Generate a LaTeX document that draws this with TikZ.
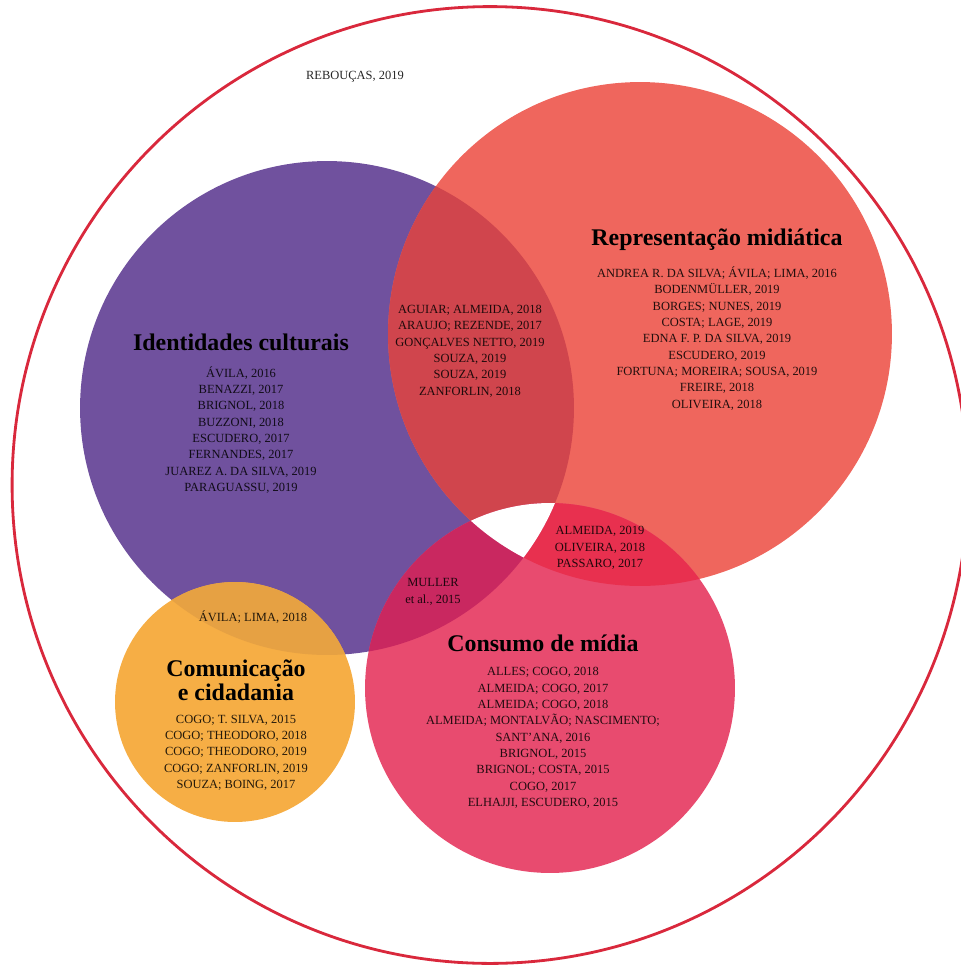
\documentclass[tikz,border=0pt]{standalone}
\usepackage{fontspec}
\setmainfont{Liberation Serif}
\usetikzlibrary{positioning}

\definecolor{identcol}{HTML}{70519E}
\definecolor{reprcol}{HTML}{EF665D}
\definecolor{consumocol}{HTML}{E84B6F}
\definecolor{comcol}{HTML}{F6AE45}
\definecolor{identrepr}{HTML}{D0454D}
\definecolor{reprconsumo}{HTML}{E8304F}
\definecolor{identconsumo}{HTML}{C92860}
\definecolor{identcom}{HTML}{E6A143}
\definecolor{outercol}{HTML}{D9283C}

\begin{document}
\begin{tikzpicture}[x=0.02cm, y=-0.02cm,
    refs/.style={align=center, text opacity=0.85, font=\fontsize{7.1}{9.3}\selectfont},
    titlebox/.style={align=center, font=\fontsize{13.6}{13.8}\selectfont\bfseries}]
    \useasboundingbox (0,0) rectangle (961,965);

    % Outer circle
    \draw[outercol, line width=1.6pt] (490,485) ellipse[x radius=9.56cm, y radius=9.57cm];

    % Circles of the four themes
    \fill[identcol] (327,408) circle[radius=4.94cm];
    \fill[reprcol] (640,334) circle[radius=5.04cm];
    \fill[consumocol] (550,688) circle[radius=3.7cm];
    \fill[comcol] (235,702) circle[radius=2.4cm];

    % Overlap of identidades and representacao
    \begin{scope}
        \clip (327,408) circle[radius=4.94cm];
        \fill[identrepr] (640,334) circle[radius=5.04cm];
    \end{scope}

    % Overlap of representacao and consumo
    \begin{scope}
        \clip (640,334) circle[radius=5.04cm];
        \fill[reprconsumo] (550,688) circle[radius=3.7cm];
    \end{scope}

    % Overlap of identidades and consumo
    \begin{scope}
        \clip (327,408) circle[radius=4.94cm];
        \fill[identconsumo] (550,688) circle[radius=3.7cm];
    \end{scope}

    % Overlap of identidades and comunicacao
    \begin{scope}
        \clip (327,408) circle[radius=4.94cm];
        \fill[identcom] (235,702) circle[radius=2.4cm];
    \end{scope}

    % Empty centre of the three circles
    \begin{scope}
        \clip (327,408) circle[radius=4.94cm];
        \clip (640,334) circle[radius=5.04cm];
        \fill[white] (550,688) circle[radius=3.7cm];
    \end{scope}

    % Labels
    \node[refs] (reboucas) at (355,77) {REBOUÇAS, 2019};

    \node[titlebox] (identTitle) at (241,342) {Identidades culturais};
    \node[refs, below=2pt of identTitle] (identRefs) {ÁVILA, 2016\\ BENAZZI, 2017\\ BRIGNOL, 2018\\ BUZZONI, 2018\\ ESCUDERO, 2017\\ FERNANDES, 2017\\ JUAREZ A. DA SILVA, 2019\\ PARAGUASSU, 2019};

    \node[refs] (identReprRefs) at (470,351) {AGUIAR; ALMEIDA, 2018\\ ARAUJO; REZENDE, 2017\\ GONÇALVES NETTO, 2019\\ SOUZA, 2019\\ SOUZA, 2019\\ ZANFORLIN, 2018};

    \node[titlebox] (reprTitle) at (717,240) {Representação midiática};
    \node[refs, below=2pt of reprTitle] (reprRefs) {ANDREA R. DA SILVA; ÁVILA; LIMA, 2016\\ BODENMÜLLER, 2019\\ BORGES; NUNES, 2019\\ COSTA; LAGE, 2019\\ EDNA F. P. DA SILVA, 2019\\ ESCUDERO, 2019\\ FORTUNA; MOREIRA; SOUSA, 2019\\ FREIRE, 2018\\ OLIVEIRA, 2018};

    \node[refs] (reprConsumoRefs) at (600,548) {ALMEIDA, 2019\\ OLIVEIRA, 2018\\ PASSARO, 2017};

    \node[refs] (identConsumoRefs) at (433,592) {MULLER\\ et al., 2015};

    \node[titlebox] (consumoTitle) at (543,643) {Consumo de mídia};
    \node[refs, below=2pt of consumoTitle] (consumoRefs) {ALLES; COGO, 2018\\ ALMEIDA; COGO, 2017\\ ALMEIDA; COGO, 2018\\ ALMEIDA; MONTALVÃO; NASCIMENTO;\\ SANT'ANA, 2016\\ BRIGNOL, 2015\\ BRIGNOL; COSTA, 2015\\ COGO, 2017\\ ELHAJJI, ESCUDERO, 2015};

    \node[refs] (identComRefs) at (253,617) {ÁVILA; LIMA, 2018};

    \node[titlebox] (comTitle) at (236,680) {Comunicação\\ e cidadania};
    \node[refs, below=1pt of comTitle] (comRefs) {COGO; T. SILVA, 2015\\ COGO; THEODORO, 2018\\ COGO; THEODORO, 2019\\ COGO; ZANFORLIN, 2019\\ SOUZA; BOING, 2017};
\end{tikzpicture}
\end{document}
